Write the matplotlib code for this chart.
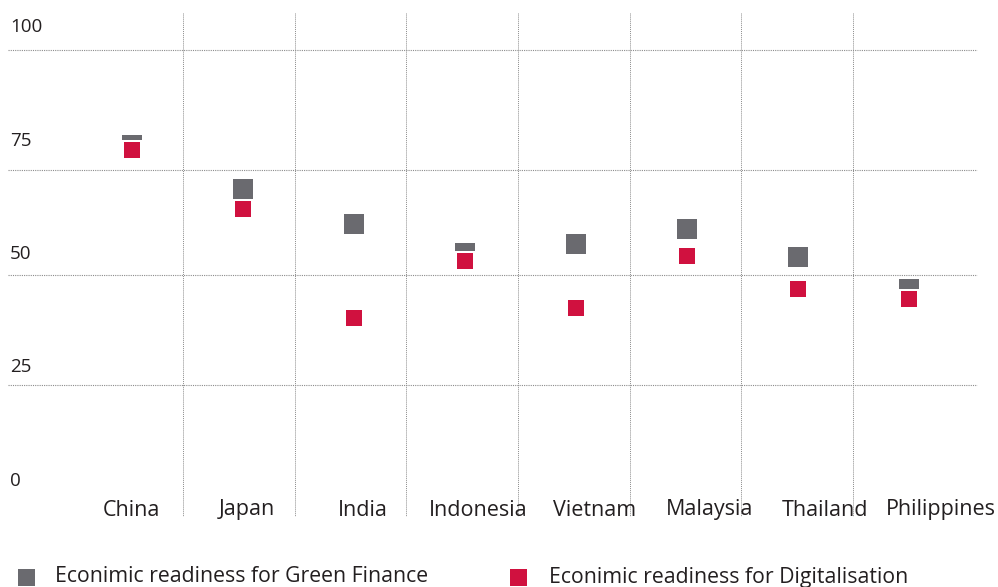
import matplotlib
matplotlib.use("Agg")
import matplotlib.pyplot as plt
from matplotlib.patches import Rectangle

plt.rcParams['font.family'] = ['Open Sans', 'DejaVu Sans']

countries = ['China', 'Japan', 'India', 'Indonesia', 'Vietnam',
             'Malaysia', 'Thailand', 'Philippines']
green_finance = [73.9, 64.3, 56.5, 50.3, 52.3, 55.4, 49.4, 42.2]
digitalisation = [72.8, 60.0, 36.0, 48.5, 38.1, 49.6, 42.2, 40.1]
y_ticks = [0, 25, 50, 75, 100]
legend_labels = ['Econimic readiness for Green Finance',
                 'Econimic readiness for Digitalisation']

GREY = '#6a6a6f'
RED = '#d0113f'
TEXT = '#231f20'
GRID = '#8c8c8c'

W, H = 998, 587
fig = plt.figure(figsize=(W / 100, H / 100), dpi=100)
ax = fig.add_axes([0, 0, 1, 1])

# pixel -> data helpers (x: category index, y: value)
def px_x(p):
    return (p - 131.5) / 111.0

def px_y(p):
    return (481 - p) / 4.54

ax.set_xlim(px_x(0), px_x(W))
ax.set_ylim(px_y(H), px_y(0))
ax.axis('off')

# dotted grid, drawn at the reference's (uneven) positions
for gy in [50, 170, 275, 385]:
    ax.plot([px_x(8), px_x(977)], [px_y(gy), px_y(gy)], color=GRID,
            lw=0.8, ls=(0, (1, 1)), zorder=1)
for k in range(7):
    ax.plot([k * 1.006 + 0.464] * 2, [px_y(13), px_y(516)], color=GRID,
            lw=0.7, ls=(0, (1, 1)), zorder=1)

xs = list(range(len(countries)))
ax.plot(xs, green_finance, ls='none', marker='s', ms=13.7,
        color=GREY, mew=0, zorder=3)
ax.plot(xs, digitalisation, ls='none', marker='s', ms=12.6,
        markerfacecolor=RED, markeredgecolor='white', mew=1.44, zorder=4)

# value labels at left
for v in y_ticks:
    ax.text(px_x(10), v, str(v), ha='left', va='center',
            fontsize=13.5, color=TEXT)

# category labels
for i, name in enumerate(countries):
    ax.text(i * 1.042, px_y(510), name, ha='center', va='center',
            fontsize=15.5, color=TEXT)

# legend
for (sx, tx), lab, col in zip([(18, 55), (510, 549)], legend_labels, [GREY, RED]):
    fig.add_artist(Rectangle((sx / W, 1 - 586 / H), 17 / W, 17 / H,
                             transform=fig.transFigure, color=col, lw=0))
    fig.text(tx / W, 1 - 577 / H, lab, ha='left', va='center',
             fontsize=15.3, color=TEXT)

fig.savefig('out.png', dpi=100)
